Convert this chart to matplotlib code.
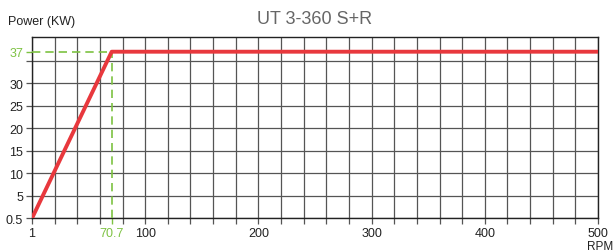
import numpy as np
import matplotlib
matplotlib.use("Agg")
import matplotlib.pyplot as plt

plt.rcParams['font.family'] = ['Liberation Sans', 'DejaVu Sans']

# Data
rpm = [1, 70.7, 500]
power = [0.5, 37, 37]
knee_rpm = 70.7
knee_power = 37
x_tick_values = [1, 100, 200, 300, 400, 500]
y_tick_values = [0.5, 5, 10, 15, 20, 25, 30]
title = "UT 3-360 S+R"

RED = '#e8383d'
GREEN = '#7dc242'
GRID = '#555555'
TXT = '#222222'

# piecewise scales: 1..100 stretched to one 100-unit segment, 0.5..5 to one 5-unit segment
def xf(v):
    v = np.asarray(v, dtype=float)
    return np.where(v < 100, (v - 1) * 100 / 99, v)

def xi(p):
    p = np.asarray(p, dtype=float)
    return np.where(p < 100, 1 + p * 99 / 100, p)

def yf(v):
    v = np.asarray(v, dtype=float)
    return np.where(v < 5, (v - 0.5) * 5 / 4.5, v)

def yi(p):
    p = np.asarray(p, dtype=float)
    return np.where(p < 5, 0.5 + p * 4.5 / 5, p)

fig = plt.figure(figsize=(6.13, 2.53), dpi=100)
ax = fig.add_axes([32 / 613, 1 - 219.3 / 253, (598 - 32) / 613, (219.3 - 38.3) / 253])
ax.set_xscale('function', functions=(xf, xi))
ax.set_yscale('function', functions=(yf, yi))
ax.set_xlim(1, 500)
ax.set_ylim(0.5, float(yi(40.2)))

# grid positions (styling) as major ticks; labels only at labelled values
xgrid = [float(v) for v in xi(np.arange(0, 501, 20))]
ygrid = [float(v) for v in yi(np.arange(0, 36, 5))]

def lab_for(vals, labelled):
    out = []
    for g in vals:
        m = [t for t in labelled if abs(t - g) < 1e-6]
        out.append(str(m[0]) if m else "")
    return out

ax.set_xticks(xgrid)
ax.set_xticklabels(lab_for(xgrid, x_tick_values))
ax.set_yticks(ygrid)
ax.set_yticklabels(lab_for(ygrid, y_tick_values))
ax.grid(which='major', color=GRID, lw=0.9)
ax.tick_params(which='major', length=4, color=GRID, width=0.9, labelsize=9,
               labelcolor=TXT, pad=2.5)

ax.set_xticks([knee_rpm], minor=True)
ax.set_xticklabels([str(knee_rpm)], minor=True)
ax.set_yticks([knee_power], minor=True)
ax.set_yticklabels([str(knee_power)], minor=True)
ax.tick_params(which='minor', length=4, color=GREEN, width=1.0, labelsize=9,
               labelcolor=GREEN, pad=2.5)

for s in ax.spines.values():
    s.set_color('#222222')
    s.set_linewidth(1.0)

ax.plot([1, knee_rpm], [knee_power, knee_power], color=GREEN, lw=1.2, ls=(0, (5, 3)), zorder=3)
ax.plot([knee_rpm, knee_rpm], [0.5, knee_power], color=GREEN, lw=1.2, ls=(0, (5, 3)), zorder=3)
ax.plot(rpm, power, color=RED, lw=2.8, solid_capstyle='butt', zorder=4)

fig.text(8 / 613, 1 - 22 / 253, "Power (KW)", fontsize=9, color=TXT, va='center', ha='left')
fig.text(315 / 613, 1 - 20 / 253, title, fontsize=13, color='#666666', va='center', ha='center')
fig.text(600 / 613, 1 - 247.5 / 253, "RPM", fontsize=8.5, color=TXT, va='center', ha='center')

fig.savefig('out.png', dpi=100)
